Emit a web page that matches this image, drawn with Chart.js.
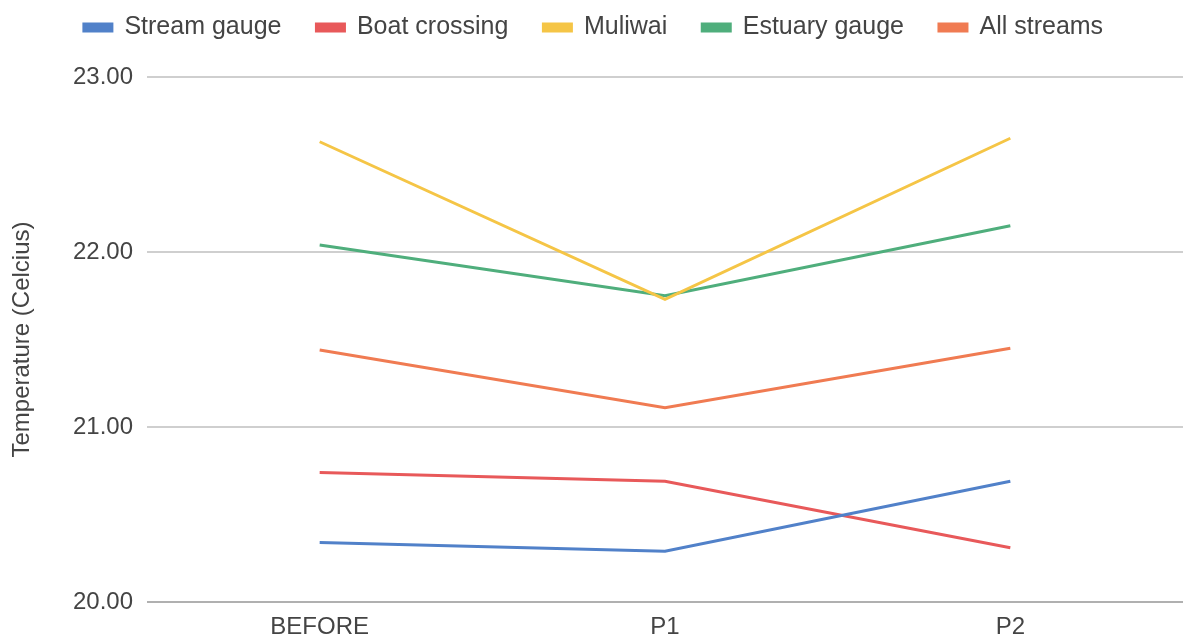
<!DOCTYPE html>
<html>
<head>
<meta charset="utf-8">
<script src="https://cdn.jsdelivr.net/npm/chart.js@4.4.0/dist/chart.umd.min.js"></script>
<style>
  html, body { margin: 0; padding: 0; background: #fff; }
  #wrap { width: 1183px; height: 636px; }
</style>
</head>
<body>
<div id="wrap"><canvas id="tempChart"></canvas></div>
<script>
// periods on the x axis
const periods = ['BEFORE', 'P1', 'P2'];

// mean temperature per site (Celcius)
const streamGauge   = [20.34, 20.29, 20.69];
const boatCrossing  = [20.74, 20.69, 20.31];
const muliwai       = [22.63, 21.73, 22.65];
const estuaryGauge  = [22.04, 21.75, 22.15];
const allStreams    = [21.44, 21.11, 21.45];

const yTicks = [20, 21, 22, 23];

const textColor = '#444444';
const fontFamily = '"Liberation Sans", Arial, sans-serif';

Chart.defaults.font.family = fontFamily;
Chart.defaults.font.size = 24;
Chart.defaults.color = textColor;

function series(label, values, color) {
    return {
        label: label,
        data: values,
        borderColor: color,
        backgroundColor: color,
        borderWidth: 3,
        pointRadius: 0,
        pointHoverRadius: 0,
        tension: 0,
        fill: false
    };
}

// legend padding is wide (for item spacing), so lift the legend row up a bit
const liftLegend = {
    id: 'liftLegend',
    afterLayout(chart) {
        if (chart.legend) {
            chart.legend.top -= 20;
            chart.legend.bottom -= 20;
        }
    }
};

const ctx = document.getElementById('tempChart').getContext('2d');
new Chart(ctx, {
    type: 'line',
    data: {
        labels: periods,
        datasets: [
            series('Stream gauge', streamGauge, '#5181c9'),
            series('Boat crossing', boatCrossing, '#e8595a'),
            series('Muliwai', muliwai, '#f5c546'),
            series('Estuary gauge', estuaryGauge, '#4fae7c'),
            series('All streams', allStreams, '#f07b52')
        ]
    },
    plugins: [liftLegend],
    options: {
        responsive: true,
        maintainAspectRatio: false,
        animation: false,
        layout: {
            padding: { left: 4, right: 0, top: 0, bottom: 0 }
        },
        plugins: {
            legend: {
                position: 'top',
                align: 'center',
                labels: {
                    boxWidth: 28,
                    boxHeight: 7,
                    padding: 35,
                    color: textColor,
                    font: { size: 25 }
                }
            },
            // empty subtitle used only as a small spacer under the legend
            subtitle: {
                display: true,
                text: '',
                weight: 500,
                font: { size: 5 },
                padding: { top: 0, bottom: 1 }
            },
            tooltip: { enabled: false }
        },
        scales: {
            x: {
                offset: true,
                grid: { display: false },
                border: { display: false },
                ticks: { padding: 3, color: textColor },
                afterFit: scale => { scale.height = 34; }
            },
            y: {
                min: 20,
                max: 23,
                afterBuildTicks: axis => {
                    axis.ticks = yTicks.map(v => ({ value: v }));
                },
                afterFit: scale => { scale.width = 143; },
                title: {
                    display: true,
                    text: 'Temperature (Celcius)',
                    color: textColor,
                    font: { size: 24 },
                    padding: { top: 4, bottom: 18 }
                },
                grid: {
                    drawTicks: false,
                    lineWidth: 2,
                    color: c => c.tick && c.tick.value === 20 ? '#b0b0b0' : '#cfcfcf'
                },
                border: { display: false },
                ticks: {
                    padding: 14,
                    color: textColor,
                    callback: v => Number(v).toFixed(2)
                }
            }
        }
    }
});
</script>
</body>
</html>
